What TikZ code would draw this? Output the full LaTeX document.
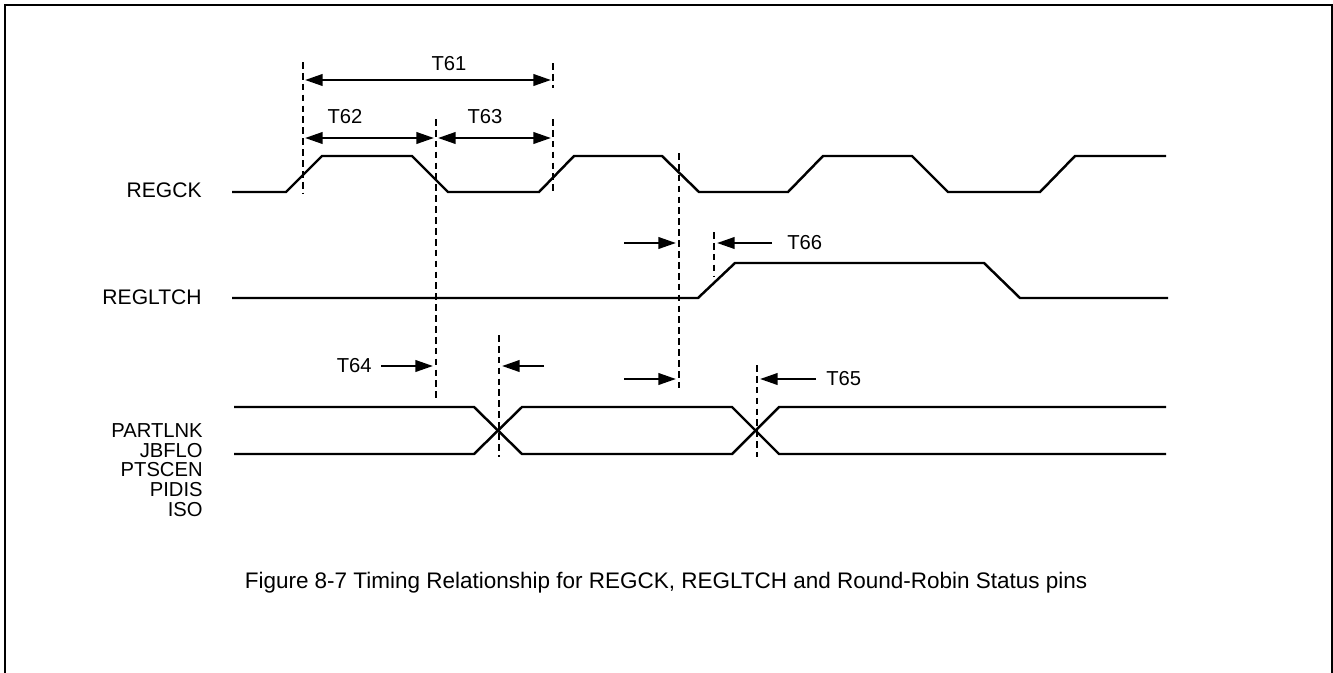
\documentclass[tikz,border=0pt]{standalone}
\usepackage{fontspec}
\setmainfont{Liberation Sans}
\usetikzlibrary{arrows.meta}

\begin{document}
\begin{tikzpicture}[x=0.02cm,y=-0.02cm,
  wave/.style={line width=1.4pt},
  guide/.style={line width=1.2pt,dash pattern=on 3.8pt off 2.4pt},
  dimr/.style={line width=1.4pt,-{Triangle[length=10pt,width=6.5pt]}},
  dimlr/.style={line width=1.4pt,{Triangle[length=10pt,width=6.5pt]}-{Triangle[length=10pt,width=6.5pt]}},
  signame/.style={anchor=east,inner sep=0pt,font=\fontsize{12}{14}\selectfont},
  tname/.style={inner sep=0pt,font=\fontsize{11.5}{13}\selectfont}]
  \useasboundingbox (0,0) rectangle (1333,673);
  % frame, open at the bottom
  \draw[line width=1.5pt] (5,673) -- (5,5) -- (1332,5) -- (1332,673);

  % signal names
  \node[signame] (regck) at (202,190) {REGCK};
  \node[signame] (regltch) at (202,297) {REGLTCH};
  \node[signame,align=right,font=\fontsize{11.5}{11.3}\selectfont,anchor=north east]
    (status) at (203,423) {PARTLNK\\JBFLO\\PTSCEN\\PIDIS\\ISO};

  % waveforms
  \draw[wave] (232,192) -- (286,192) -- (322,156) -- (412,156) -- (448,192) -- (539,192)
    -- (574,156) -- (662,156) -- (699,192) -- (788,192) -- (823,156) -- (912,156)
    -- (948,192) -- (1040,192) -- (1075,156) -- (1166,156);
  \draw[wave] (232,298) -- (698,298) -- (735,263) -- (984,263) -- (1020,298) -- (1168,298);
  \draw[wave] (234,407) -- (474,407) -- (522,454) -- (732,454) -- (779,407) -- (1166,407);
  \draw[wave] (234,454) -- (474,454) -- (522,407) -- (732,407) -- (779,454) -- (1166,454);

  % timing guides
  \draw[guide] (303,62) -- (303,194);
  \draw[guide] (553,63) -- (553,88);
  \draw[guide] (553,119) -- (553,194);
  \draw[guide] (436,119) -- (436,398);
  \draw[guide] (679,153) -- (679,391);
  \draw[guide] (714,232) -- (714,276);
  \draw[guide] (499,335) -- (499,457);
  \draw[guide] (757,365) -- (757,457);

  % T61 .. T63
  \coordinate (t61a) at (305,80);  \coordinate (t61b) at (551,80);
  \coordinate (t62a) at (305,138); \coordinate (t62b) at (434,138);
  \coordinate (t63a) at (438,138); \coordinate (t63b) at (551,138);
  \draw[dimlr] (t61a) -- (t61b);
  \draw[dimlr] (t62a) -- (t62b);
  \draw[dimlr] (t63a) -- (t63b);
  \node[tname] (l61) at (449,64) {T61};
  \node[tname] (l62) at (345,117) {T62};
  \node[tname] (l63) at (485,117) {T63};

  % T64
  \node[tname,anchor=east] (l64) at (372,366) {T64};
  \coordinate (t64b) at (433,366);
  \coordinate (t64c) at (544,366); \coordinate (t64d) at (502,366);
  \draw[dimr] (l64.east) ++(9,0) -- (t64b);
  \draw[dimr] (t64c) -- (t64d);

  % T66
  \coordinate (t66a) at (624,243); \coordinate (t66b) at (676,243);
  \coordinate (t66c) at (772,243); \coordinate (t66d) at (717,243);
  \draw[dimr] (t66a) -- (t66b);
  \draw[dimr] (t66c) -- (t66d);
  \node[tname,anchor=west] (l66) at (787,243) {T66};

  % T65
  \coordinate (t65a) at (624,379); \coordinate (t65b) at (676,379);
  \coordinate (t65c) at (816,379); \coordinate (t65d) at (760,379);
  \draw[dimr] (t65a) -- (t65b);
  \draw[dimr] (t65c) -- (t65d);
  \node[tname,anchor=west] (l65) at (826,379) {T65};

  \node[font=\fontsize{12.8}{15}\selectfont] (caption) at (666,583)
    {Figure 8-7 Timing Relationship for REGCK, REGLTCH and Round-Robin Status pins};
\end{tikzpicture}
\end{document}
